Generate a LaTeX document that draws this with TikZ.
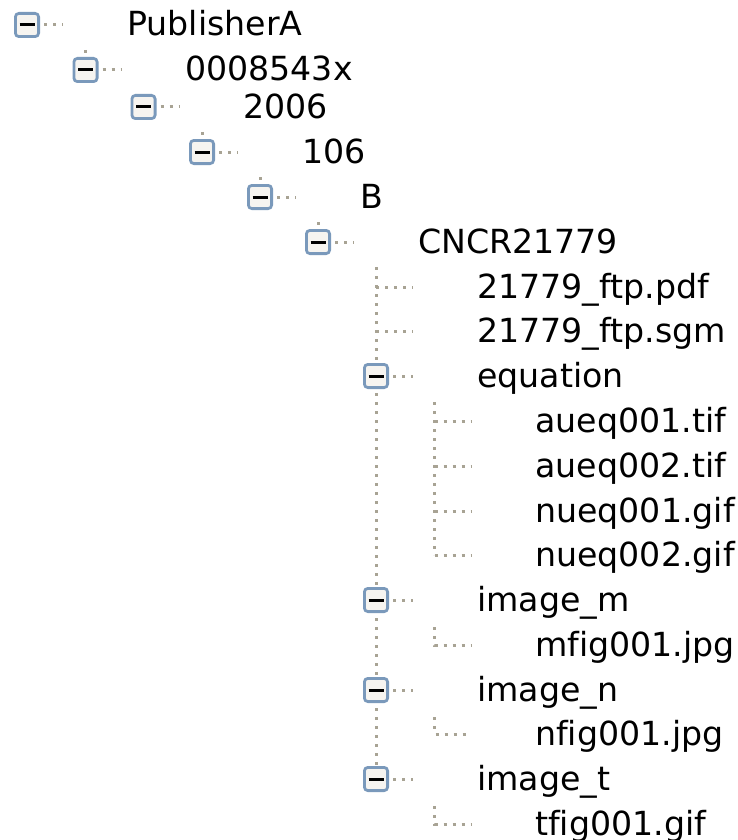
\documentclass[tikz,border=0pt]{standalone}
\usepackage{fontspec}
\setmainfont[Ligatures=NoCommon]{DejaVu Sans}
\usetikzlibrary{backgrounds}
\definecolor{boxblue}{RGB}{122,153,187}
\definecolor{boxfill}{RGB}{246,244,240}
\definecolor{dotgray}{RGB}{168,163,148}

\begin{document}
\begin{tikzpicture}[x=1pt,y=-1pt,
	item/.style={anchor=west,inner sep=0pt,text height=28pt,text depth=6pt,font=\fontsize{33.2}{40}\selectfont},
	fold/.style={draw=boxblue,line width=2.8pt,fill=boxfill,rounded corners=3.5pt,minimum size=23.2pt,inner sep=0pt,
		path picture={\draw[black,line width=3pt] ([xshift=-7.5pt]path picture bounding box.center) -- ([xshift=7.5pt]path picture bounding box.center);}},
	dots/.style={dotgray,line width=3pt,dash pattern=on 3pt off 6pt}]
	\useasboundingbox (0,0) rectangle (738,840);
	% folders and files
	\node[fold] (pubB) at (27,25) {};
	\node[item] (pub) at (127,25) {PublisherA};
	\node[fold] (issB) at (85.5,70) {};
	\node[item] (iss) at (185,70) {0008543x};
	\node[fold] (yrB) at (143.5,107) {};
	\node[item] (yr) at (243,107) {2006};
	\node[fold] (volB) at (202,152) {};
	\node[item] (vol) at (302,152) {106};
	\node[fold] (secB) at (260,197) {};
	\node[item] (sec) at (360,197) {B};
	\node[fold] (artB) at (318,242) {};
	\node[item] (art) at (418,242) {CNCR21779};
	\node[item] (pdf) at (477,287) {21779\_ftp.pdf};
	\node[item] (sgm) at (477,331) {21779\_ftp.sgm};
	\node[fold] (eqB) at (376,376) {};
	\node[item] (eq) at (477,376) {equation};
	\node[item] (aq1) at (535,421) {aueq001.tif};
	\node[item] (aq2) at (535,466) {aueq002.tif};
	\node[item] (nq1) at (535,511) {nueq001.gif};
	\node[item] (nq2) at (535,555) {nueq002.gif};
	\node[fold] (immB) at (376,600) {};
	\node[item] (imm) at (477,600) {image\_m};
	\node[item] (mf) at (535,645) {mfig001.jpg};
	\node[fold] (imnB) at (376,690) {};
	\node[item] (imn) at (477,690) {image\_n};
	\node[item] (nf) at (535,734) {nfig001.jpg};
	\node[fold] (imtB) at (376,779) {};
	\node[item] (imt) at (477,779) {image\_t};
	\node[item] (tf) at (535,824) {tfig001.gif};
	% dotted tree lines
	\begin{scope}[on background layer]
	\foreach \b/\t in {pubB/pub,issB/iss,yrB/yr,volB/vol,secB/sec,artB/art,eqB/eq,immB/imm,imnB/imn,imtB/imt}
		\draw[dots,shorten <=4pt] (\b.east) -- ([xshift=-64pt]\t.west);
	\foreach \p/\c in {pubB/issB,issB/yrB,yrB/volB,volB/secB,secB/artB}
		\draw[dots] (\c.center |- \p.south) ++(0,12) -- (\c.center);
	\draw[dots] (imtB.center |- artB.south) ++(0,12) -- (imtB.center);
	\foreach \t in {pdf,sgm}
		\draw[dots] (imtB.center |- \t.west) -- ([xshift=-64pt]\t.west);
	\draw[dots] (eqB.south) ++(58.5,13) coordinate (eqtop) -- (eqtop |- nq2.west);
	\foreach \t in {aq1,aq2,nq1,nq2}
		\draw[dots] (eqtop |- \t.west) -- ([xshift=-64pt]\t.west);
	\draw[dots] (immB.south) ++(58.5,14) coordinate (mtop) -- (mtop |- mf.west) -- ([xshift=-64pt]mf.west);
	\draw[dots] (imnB.south) ++(58.5,14) coordinate (ntop) -- (ntop |- nf.west) -- ([xshift=-64pt]nf.west);
	\draw[dots] (imtB.south) ++(58.5,14) coordinate (ttop) -- (ttop |- tf.west) -- ([xshift=-64pt]tf.west);
	\end{scope}
\end{tikzpicture}
\end{document}
